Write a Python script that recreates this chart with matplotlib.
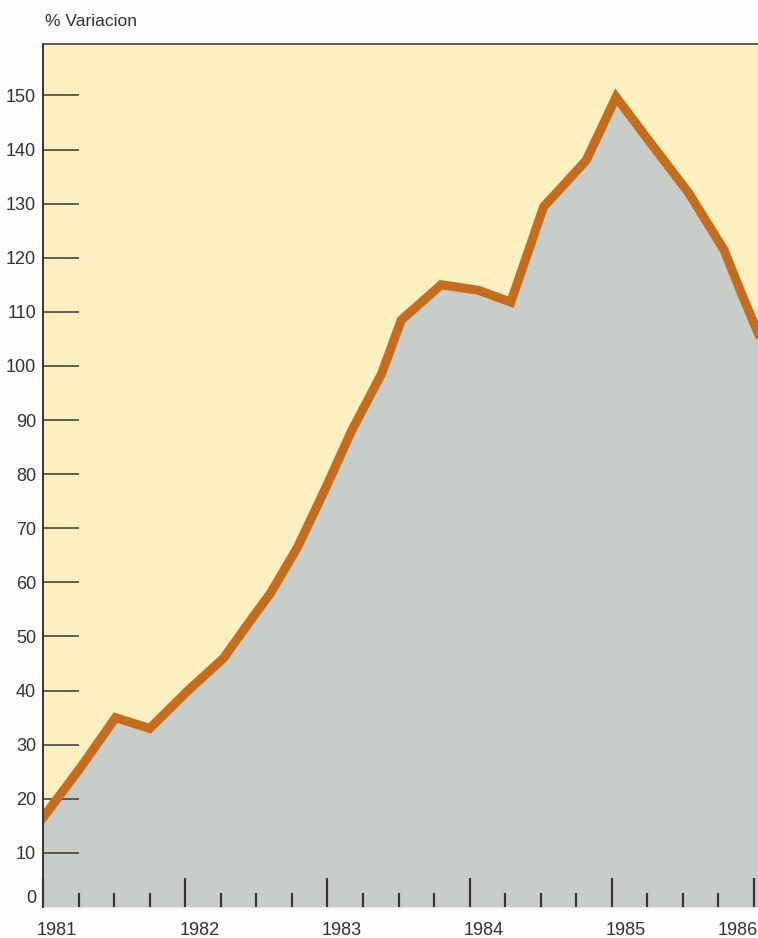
import matplotlib.pyplot as plt
import matplotlib.transforms as mtransforms
import numpy as np

# monthly-ish readings of the index, decimal years
years = [1981.0, 1981.27, 1981.51, 1981.75, 1982.02, 1982.27, 1982.46, 1982.60,
         1982.79, 1982.98, 1983.17, 1983.38, 1983.52, 1983.80, 1984.06, 1984.29,
         1984.52, 1984.82, 1985.03, 1985.25, 1985.54, 1985.79, 1985.91, 1986.03]
variacion = [16.5, 26, 35, 33, 40, 46, 53, 58,
             66.5, 77, 88, 98.5, 108.5, 115, 114, 111.8,
             129.4, 138, 149.7, 142, 132, 121.4, 113.5, 106]

year_labels = ['1981', '1982', '1983', '1984', '1985', '1986']
y_ticks = [10, 20, 30, 40, 50, 60, 70, 80, 90, 100, 110, 120, 130, 140, 150]

plt.rcParams['font.family'] = ['Liberation Sans', 'DejaVu Sans']

W, H = 758, 938
fig = plt.figure(figsize=(W / 100, H / 100), dpi=100)
fig.patch.set_facecolor('#fcfcfa')
ax = fig.add_axes([43 / W, 31 / H, 715 / W, 863 / H])
ax.set_facecolor('#fcefc0')

ax.set_xlim(1981, 1981 + 715 / 142.2)
ax.set_ylim(0, 159.5)

ax.fill_between(years, variacion, 0, color='#c9cdc9', lw=0, zorder=1)
ax.plot(years, variacion, color='#c56d1d', lw=6.5, solid_joinstyle='miter', zorder=2)

# spines: only left and top
for s in ['right', 'bottom']:
    ax.spines[s].set_visible(False)
ax.spines['left'].set_color('#3a3530')
ax.spines['left'].set_linewidth(1.4)
ax.spines['top'].set_color('#4a4744')
ax.spines['top'].set_linewidth(1.2)

# y ticks, drawn inside
ax.set_yticks(y_ticks)
ax.set_yticklabels([str(v) for v in y_ticks])
ax.tick_params(axis='y', direction='in', length=26, width=1.1, color='#3a3530',
               labelsize=13, labelcolor='#333333', pad=5)
ax.text(-0.009, 0.002, '0', transform=ax.get_yaxis_transform(), ha='right', va='bottom',
        fontsize=13, color='#333333')

# x ticks: years major, quarters minor, pointing up
yrs = np.arange(1981, 1987)
ax.set_xticks(yrs)
ax.set_xticklabels(year_labels, ha='left')
ax.set_xticks([y + q for y in range(1981, 1986) for q in (0.25, 0.5, 0.75)], minor=True)
ax.tick_params(axis='x', which='major', direction='in', length=21, width=1.6,
               color='#3a3530', labelsize=13, labelcolor='#333333', pad=11)
ax.tick_params(axis='x', which='minor', direction='in', length=10, width=1.6,
               color='#3a3530')
shift = mtransforms.ScaledTranslation(-6 / 100, 0, fig.dpi_scale_trans)
labs = ax.get_xticklabels()
for lab in labs:
    lab.set_transform(lab.get_transform() + shift)
# last year label sits against the right edge
labs[-1].set_ha('right')
labs[-1].set_transform(labs[-1].get_transform()
                       + mtransforms.ScaledTranslation(10 / 100, 0, fig.dpi_scale_trans))

fig.text(45 / W, 1 - 21 / H, '% Variacion', ha='left', va='center', fontsize=12.5,
         color='#333333')

fig.savefig('out.png', dpi=100, facecolor=fig.get_facecolor())
